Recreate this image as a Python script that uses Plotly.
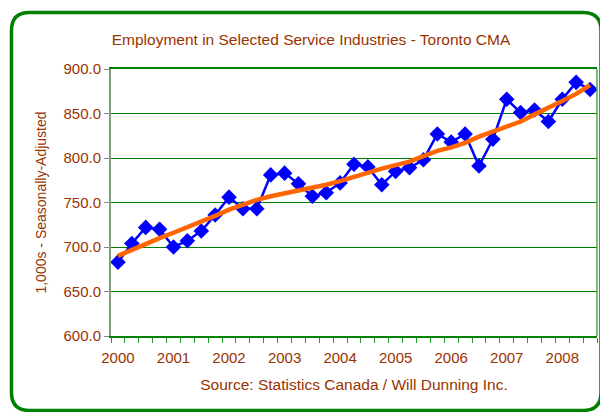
import plotly.graph_objects as go

years = ["2000", "2001", "2002", "2003", "2004", "2005", "2006", "2007", "2008"]
quarters = [f"{y} Q{q}" for y in range(2000, 2009) for q in range(1, 5)][:35]

employment = [683, 704, 722, 720, 700, 707, 718, 736, 756, 743, 743, 781, 783,
              771, 757, 761, 772, 793, 790, 770, 785, 789, 798, 827, 818, 827,
              791, 821, 866, 851, 854, 841, 866, 885, 877]

trend = [690, 697, 704, 710, 716, 722, 728, 735, 742, 748, 753, 757, 760, 763,
         767, 770, 774, 779, 784, 788, 792, 796, 802, 808, 812, 817, 824, 830,
         836, 841, 849, 856, 864, 872, 882]

title_text = "Employment in Selected Service Industries - Toronto CMA"
y_title = "1,000s - Seasonally-Adjusted"
x_title = "Source: Statistics Canada / Will Dunning Inc."

BROWN = "#993300"
GREEN = "#008000"
FONT = "Liberation Sans, Arial, sans-serif"

W, H = 600, 412
L, R, T, B = 111, 3, 69, 76
pw = W - L - R
ph = H - T - B

def px(x):
    return (x - L) / pw

def py(y):
    return (H - B - y) / ph

idx = list(range(len(employment)))

fig = go.Figure()
fig.add_trace(go.Scatter(
    x=idx, y=employment, mode="lines+markers",
    line=dict(color="#0000FF", width=2.5),
    marker=dict(symbol="diamond", size=12, color="#0000FF"),
    hovertext=quarters, showlegend=False))
fig.add_trace(go.Scatter(
    x=idx, y=trend, mode="lines",
    line=dict(color="#FF6600", width=4.5),
    hovertext=quarters, showlegend=False))

# rounded green frame (pixel coordinates converted to paper)
x0, y0, x1, y1, r = 11.5, 12.5, 601, 410.5, 18
path = (f"M {px(x0+r)},{py(y0)} L {px(x1-r)},{py(y0)} "
        f"Q {px(x1)},{py(y0)} {px(x1)},{py(y0+r)} "
        f"L {px(x1)},{py(y1-r)} Q {px(x1)},{py(y1)} {px(x1-r)},{py(y1)} "
        f"L {px(x0+r)},{py(y1)} Q {px(x0)},{py(y1)} {px(x0)},{py(y1-r)} "
        f"L {px(x0)},{py(y0+r)} Q {px(x0)},{py(y0)} {px(x0+r)},{py(y0)} Z")
shapes = [
    dict(type="path", xref="paper", yref="paper", path=path,
         line=dict(color=GREEN, width=3.5), layer="above"),
    dict(type="line", xref="paper", yref="paper", x0=1, x1=1, y0=0, y1=1,
         line=dict(color="#44aa44", width=1.5)),
]

fig.update_layout(
    width=W, height=H,
    margin=dict(l=L, r=R, t=T, b=B),
    paper_bgcolor="white", plot_bgcolor="white",
    font=dict(family=FONT, color=BROWN, size=14),
    title=dict(text=title_text, xref="container", x=311 / W, xanchor="center",
               yref="container", y=1 - 40 / H, yanchor="middle",
               font=dict(size=15.5, color=BROWN, family=FONT)),
    shapes=shapes,
    xaxis=dict(
        range=[-0.5, 34.5],
        tickmode="array", tickvals=[0, 4, 8, 12, 16, 20, 24, 28, 32],
        ticktext=years,
        ticks="outside", ticklen=7, tickcolor="rgba(0,0,0,0)",
        tickfont=dict(size=15, color=BROWN, family=FONT),
        showgrid=False, zeroline=False,
        showline=True, linecolor=GREEN, linewidth=1.5, mirror=True,
        minor=dict(tickmode="linear", tick0=-0.5, dtick=1, ticks="outside",
                   ticklen=5, tickcolor="#229922", tickwidth=1, showgrid=False),
        title=dict(text=x_title, font=dict(size=15.5, color=BROWN, family=FONT),
                   standoff=14),
        fixedrange=True,
    ),
    yaxis=dict(
        range=[600, 900], dtick=50, tick0=600, tickformat=".1f",
        ticks="outside", ticklen=5, tickcolor="#888888",
        tickfont=dict(size=15, color=BROWN, family=FONT),
        showgrid=True, gridcolor=GREEN, gridwidth=1, zeroline=False,
        showline=True, linecolor="#7f9f7f", linewidth=2,
        title=dict(text=y_title, font=dict(size=14, color=BROWN, family=FONT),
                   standoff=14),
        fixedrange=True,
    ),
)

fig.write_html("out.html")
